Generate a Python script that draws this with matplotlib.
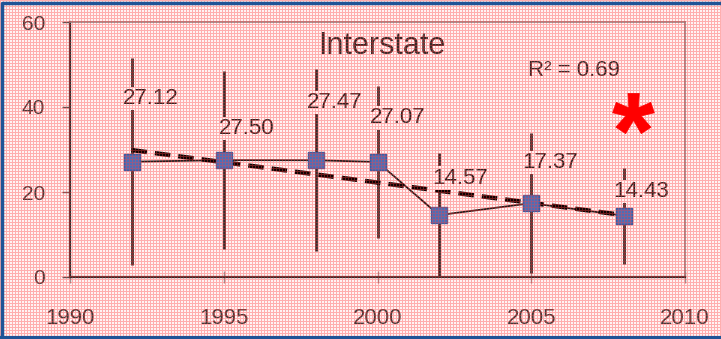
import numpy as np
import matplotlib
matplotlib.use("Agg")
import matplotlib.pyplot as plt
from matplotlib.font_manager import FontProperties
from matplotlib.path import Path
from matplotlib.textpath import TextPath

plt.rcParams["font.family"] = ["Liberation Sans", "DejaVu Sans"]

years = [1992, 1995, 1998, 2000, 2002, 2005, 2008]
values = [27.12, 27.50, 27.47, 27.07, 14.57, 17.37, 14.43]
errors = [24.4, 21.0, 21.4, 17.8, 14.6, 16.5, 11.3]
labels = ["27.12", "27.50", "27.47", "27.07", "14.57", "17.37", "14.43"]
r2_text = "R² = 0.69"
title = "Interstate"

# label offsets in pixels from each point (hand placed in the source chart)
label_offsets = [(19, 63), (23, 32), (19, 58), (20, 44), (21, 37), (19, 41), (18, 24)]

W, H = 721, 339
fig = plt.figure(figsize=(W / 100, H / 100), dpi=100)
fig.patch.set_facecolor("white")
ax = fig.add_axes([70 / W, (H - 277) / H, (685 - 70) / W, (277 - 22) / H])
ax.set_facecolor("white")

ax.errorbar(years, values, yerr=errors, fmt="none", ecolor="#2a2a2a",
            elinewidth=2, capsize=0, zorder=2, clip_on=True)
ax.plot(years, values, color="#1a1a1a", lw=1.3, zorder=3)

slope, intercept = np.polyfit(years, values, 1)
fx = np.array([years[0], years[-1]])
ax.plot(fx, slope * fx + intercept, color="black", lw=3.2,
        dashes=(3.5, 1.8), zorder=4)

ax.plot(years, values, ls="none", marker="s", ms=11, mfc="#3f72c0",
        mec="#2f5fa8", zorder=5)

for x, y, txt, (dx, dy) in zip(years, values, labels, label_offsets):
    ax.annotate(txt, (x, y), xytext=(dx, dy), textcoords="offset pixels",
                ha="center", va="center", fontsize=16, color="#222222",
                bbox=dict(boxstyle="square,pad=0.05", fc="white", ec="none"),
                zorder=6)

ax.text(0.507, 0.905, title, transform=ax.transAxes, ha="center", va="center",
        fontsize=22, color="#2a2a2a")
ax.text(0.82, 0.81, r2_text, transform=ax.transAxes, ha="center", va="center",
        fontsize=16, color="#2a2a2a")

ax.set_xlim(1990, 2010)
ax.set_ylim(0, 60)
ax.set_xticks([1990, 1995, 2000, 2005, 2010])
ax.set_yticks([0, 20, 40, 60])
ax.tick_params(axis="y", direction="out", length=6, width=1, color="#555555",
               labelsize=15, labelcolor="#3a3a3a", pad=12)
ax.tick_params(axis="x", direction="inout", length=8, width=1, color="#999999",
               labelsize=16, labelcolor="#3a3a3a", pad=18)
for side in ["left", "bottom"]:
    ax.spines[side].set_color("#2a2a2a")
    ax.spines[side].set_linewidth(1.6)
for side in ["top", "right"]:
    ax.spines[side].set_color("#8a8a8a")
    ax.spines[side].set_linewidth(1.2)

# pink screen-grid overlay over the whole picture
ov = fig.add_axes([0, 0, 1, 1], zorder=10)
ov.set_axis_off()
pat = np.zeros((H, W, 4))
rows = np.arange(H)[:, None]
cols = np.arange(W)[None, :]
mask = (rows % 3 == 0) | (cols % 3 == 0)
pat[..., 0] = 1.0
pat[..., 1] = 0.25
pat[..., 2] = 0.25
pat[..., 3] = np.where(mask, 0.42, 0.06)
ov.imshow(pat, extent=(0, W, 0, H), interpolation="nearest", aspect="auto")
ov.set_xlim(0, W)
ov.set_ylim(0, H)

# blue frame and red asterisk sit above the overlay
ov.plot([2, 2, W], [1, H - 3, H - 3], color="#1f5496", lw=2.5, zorder=12)
ov.plot([0, W], [1.5, 1.5], color="#1f5496", lw=3, zorder=12)
tp = TextPath((0, 0), "*", size=10,
              prop=FontProperties(family="Liberation Sans", weight="bold"))
codes = tp.codes
real = codes != Path.CLOSEPOLY
verts = tp.vertices.copy()
verts -= (verts[real].min(axis=0) + verts[real].max(axis=0)) / 2
verts[~real] = 0
star = Path(verts, codes)
ov.plot([633], [H - 113], ls="none", marker=star, ms=30, mfc="#ff0000",
        mec="#ff0000", mew=0.5, zorder=13)

fig.savefig("out.png", dpi=100)
